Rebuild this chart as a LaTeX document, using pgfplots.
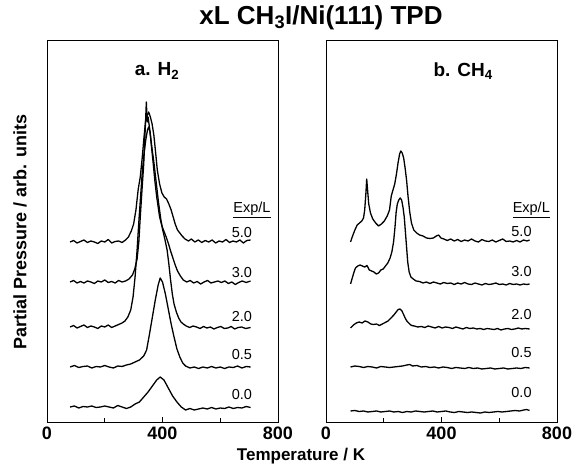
\documentclass[border=0pt]{standalone}
\usepackage{fontspec}
\setmainfont{Liberation Sans}
\usepackage{pgfplots}
\pgfplotsset{compat=1.18}

\pgfplotsset{
  tpd/.style={
    scale only axis, width=231pt, height=382pt,
    xmin=0, xmax=800, ymin=0, ymax=382,
    xtick={0,400,800}, minor xtick={200,600},
    ytick=\empty,
    xtick pos=bottom, tick align=inside,
    major tick length=5pt, minor tick length=4pt,
    tick style={black, line width=0.9pt},
    axis line style={line width=0.7pt},
    tick label style={font=\fontsize{18}{20}\selectfont\bfseries, yshift=-1pt},
    /pgf/number format/assume math mode=true,
    every axis plot post/.append style={black, solid, mark=none, line width=1.3pt, line join=round},
  },
}
\tikzset{lbl/.style={font=\fontsize{14.5}{16}\selectfont, anchor=center}}

\begin{document}
\begin{tikzpicture}[x=1pt,y=1pt]

% a. H2
\begin{axis}[tpd, at={(0pt,0pt)}, anchor=south west]
% 5.0 L
\addplot coordinates {(80,180)(92,181.5)(104,179)(116,180.5)(128,182)(140,179.5)(152,181)(164,180)(176,178.5)(188,181)(200,180)(212,182.5)(224,179)(236,180.5)(248,181)(260,179.5)(272,182)(282,185)(292,191)(300,198)(308,212)(316,233)(323,245)(330,265)(336,285)(341,300)(346,306)(352,310)(358,305)(364,298)(370,287)(376,270)(382,252)(390,238)(398,229)(406,225)(414,223)(422,218)(430,212)(437,205)(444,198)(452,192)(460,189)(468,186)(478,183)(490,181)(500,183)(512,180)(524,182)(536,179.5)(548,181.5)(560,180)(572,182)(584,179)(596,181)(608,180)(620,182.5)(632,179.5)(644,181)(656,180)(668,182)(680,179)(692,181.5)(705,182)};
% 3.0 L
\addplot coordinates {(80,140)(92,141.5)(104,139)(116,140.5)(128,139)(140,141)(152,140)(164,138.5)(176,141)(188,140)(200,142)(212,139.5)(224,140.5)(236,139)(248,141.5)(260,140)(272,141)(284,143)(296,147)(304,153)(312,163)(318,180)(323,205)(329,232)(335,258)(339,285)(342,305)(344,320)(347,300)(350,305)(356,292)(362,275)(368,258)(374,240)(380,225)(386,213)(390,205)(398,196)(406,190)(414,184)(422,177)(428,171)(436,164)(444,157)(452,151)(462,146)(472,142)(484,140)(496,141.5)(508,139)(520,140.5)(532,138)(544,140)(556,141.5)(568,139)(580,140)(592,141)(604,139.5)(616,141)(628,138.5)(640,140)(652,137.5)(664,139.5)(676,141)(690,139.5)(705,141)};
% 2.0 L
\addplot coordinates {(80,95)(92,96.5)(104,94)(116,95.5)(128,97)(140,94.5)(152,96)(164,95)(176,93.5)(188,96)(200,95)(212,97)(224,94.5)(236,96)(248,97.5)(260,99)(270,101)(280,105)(290,112)(298,125)(305,145)(312,172)(318,200)(324,225)(330,250)(336,268)(342,282)(348,292)(352,295)(357,290)(363,275)(370,260)(378,240)(386,220)(394,203)(400,193)(408,183)(416,172)(422,158)(428,142)(434,128)(440,118)(448,110)(456,104)(464,100)(472,98)(482,96)(494,94.5)(506,96)(518,95)(530,93.5)(542,95.5)(554,94)(566,95)(578,93)(590,94.5)(602,95.5)(614,93.5)(626,94)(638,95.5)(650,93)(662,94.5)(674,95)(688,93.5)(705,94.5)};
% 0.5 L
\addplot coordinates {(80,55)(95,56.5)(110,54.5)(125,55.5)(140,56)(155,54)(170,55.5)(185,55)(200,56.5)(215,55)(230,54)(245,56)(260,55.5)(275,57)(290,58)(305,60)(320,62)(335,66)(345,72)(355,88)(365,105)(375,122)(385,137)(392,144)(400,140)(410,128)(420,113)(430,98)(440,85)(450,73)(460,65)(470,59)(480,56)(495,54)(510,55)(525,53.5)(540,55)(555,54)(570,55.5)(585,54)(600,55)(615,53.5)(630,55)(645,54.5)(660,56)(675,54)(690,55.5)(705,55)};
% 0.0 L
\addplot coordinates {(80,15)(95,16)(110,14)(125,15.5)(140,15)(155,16)(170,14.5)(185,15)(200,16)(215,15)(230,14)(245,16.5)(260,15)(275,13.5)(290,15)(305,18)(320,20)(335,25)(350,30)(365,36)(380,42)(392,45)(405,42)(420,34)(435,26)(450,20)(465,15)(480,12)(495,13.5)(510,12)(525,13)(540,14)(555,13)(570,14.5)(585,13)(600,14)(615,13.5)(630,15)(645,13.5)(660,14.5)(675,14)(690,15.5)(705,14.5)};
\node[font=\fontsize{19}{21}\selectfont\bfseries] at (axis cs:381,351) {a. H\textsubscript{2}};
\node[lbl] at (axis cs:710,212) {\underline{Exp/L}};
\node[lbl] at (axis cs:675,189) {5.0};
\node[lbl] at (axis cs:675,149) {3.0};
\node[lbl] at (axis cs:675,105) {2.0};
\node[lbl] at (axis cs:675,67) {0.5};
\node[lbl] at (axis cs:675,27) {0.0};
\end{axis}

% b. CH4
\begin{axis}[tpd, at={(279pt,0pt)}, anchor=south west]
% 5.0 L
\addplot coordinates {(85,180)(92,186)(100,192)(108,197)(116,199)(124,201)(130,204)(134,212)(138,228)(141,243)(144,232)(148,218)(154,209)(162,203)(172,199)(182,196)(192,198)(202,201)(212,206)(220,212)(226,226)(232,232)(238,238)(244,248)(250,260)(255,268)(259,271)(264,269)(269,264)(274,254)(279,242)(284,226)(290,210)(296,199)(304,192)(314,189)(324,187)(336,186)(348,184)(360,183.5)(372,184)(382,186)(390,187)(398,184)(408,183)(420,181.5)(432,183)(444,181)(456,182.5)(468,180.5)(480,182)(492,181)(504,183)(516,181)(528,180)(540,182.5)(552,181)(564,180.5)(576,182)(588,180)(600,181.5)(612,183)(624,180.5)(636,181)(648,180)(660,181.5)(672,180)(684,182)(696,181)(705,182)};
% 3.0 L
\addplot coordinates {(85,138)(90,143)(96,149)(102,154)(110,156)(118,157)(126,156)(134,155)(142,156.5)(150,152)(158,151)(166,150)(174,148)(182,149)(190,152)(198,153)(206,156)(214,159)(222,164)(228,170)(234,180)(239,195)(243,210)(247,218)(252,222)(257,224)(262,222)(267,214)(271,205)(275,190)(279,175)(283,160)(288,150)(294,145)(302,143)(312,141)(324,140.5)(336,139)(348,140)(360,138.5)(372,140)(384,139)(396,138)(408,139.5)(420,138.5)(432,139)(444,137.5)(456,139)(468,138)(480,139.5)(492,138)(504,137.5)(516,139)(528,138)(540,137)(552,138.5)(564,137.5)(576,138)(588,139)(600,137.5)(612,138)(624,137)(636,138.5)(648,137.5)(660,138)(672,137)(684,138)(696,137.5)(705,138)};
% 2.0 L
\addplot coordinates {(85,94)(95,97)(105,99)(115,100)(125,99)(135,101)(145,100)(155,98)(165,97.5)(175,98)(185,96.5)(195,98)(205,99.5)(215,101)(225,104)(235,107)(243,110)(250,112.5)(256,113)(262,111.5)(268,108)(274,104)(280,101)(288,98.5)(296,96.5)(306,96)(318,95)(330,95.5)(342,94.5)(354,96)(366,95)(378,94)(390,95.5)(402,94)(414,95)(426,94.5)(438,93.5)(450,95)(462,94)(474,93)(486,94.5)(498,93.5)(510,94)(522,93)(534,93.5)(546,92.5)(558,93.5)(570,93)(582,92.5)(594,93.5)(606,92)(618,93)(630,93.5)(642,92.5)(654,93)(666,94)(678,93)(690,93.5)(705,93)};
% 0.5 L
\addplot coordinates {(85,55)(100,56)(115,55.5)(130,54.5)(145,55.5)(160,55)(175,54)(190,55.5)(205,55)(220,54.5)(235,55)(250,55.5)(265,56)(280,57)(290,57.5)(300,56)(315,56.5)(330,55)(345,55.5)(360,54.5)(375,55)(390,54)(405,55)(420,54.5)(435,53.5)(450,54.5)(465,54)(480,53.5)(495,54.5)(510,53.5)(525,54)(540,53)(555,53.5)(570,54)(585,53)(600,53.5)(615,54)(630,53)(645,53.5)(660,54)(675,53.5)(690,54.5)(705,54)};
% 0.0 L
\addplot coordinates {(85,11)(100,11.5)(115,10.5)(130,11)(145,10)(160,10.5)(175,11)(190,10)(205,10.5)(220,11)(235,10)(250,10.5)(265,9.5)(280,10.5)(295,10)(310,11)(325,10.5)(340,10)(355,10.5)(370,11)(385,10)(400,10.5)(415,11)(430,10)(445,9.5)(460,10.5)(475,10)(490,9.5)(505,10)(520,9.5)(535,9)(550,10)(565,9.5)(580,10)(595,10.5)(610,10)(625,10.5)(640,11)(655,11.5)(670,11)(685,12)(695,12.5)(705,11.5)};
\node[font=\fontsize{19}{21}\selectfont\bfseries] at (axis cs:475,351) {b. CH\textsubscript{4}};
\node[lbl] at (axis cs:711,212) {\underline{Exp/L}};
\node[lbl] at (axis cs:677,190) {5.0};
\node[lbl] at (axis cs:677,150) {3.0};
\node[lbl] at (axis cs:677,107) {2.0};
\node[lbl] at (axis cs:677,69) {0.5};
\node[lbl] at (axis cs:677,29) {0.0};
\end{axis}

\node[font=\fontsize{26}{29}\selectfont\bfseries] at (274,404) {xL CH\textsubscript{3}I/Ni(111) TPD};
\node[font=\fontsize{17}{19}\selectfont\bfseries] at (254,-34) {Temperature / K};
\node[font=\fontsize{18}{20}\selectfont\bfseries, rotate=90] at (-27,190) {Partial Pressure / arb. units};

\pgfresetboundingbox
\path[use as bounding box] (-47,-46) rectangle (528,422);
\end{tikzpicture}
\end{document}
